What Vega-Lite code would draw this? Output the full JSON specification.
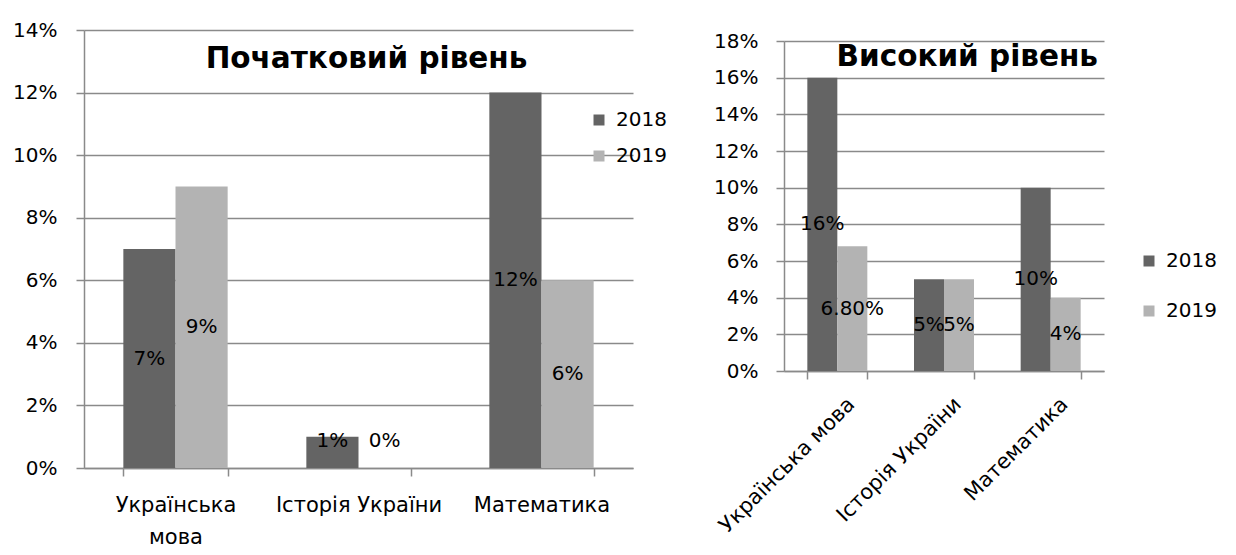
{
  "$schema": "https://vega.github.io/schema/vega-lite/v6.json",
  "background": "white",
  "padding": {"left": 12, "top": 20, "right": 0, "bottom": 0},
  "bounds": "flush",
  "spacing": 151,
  "config": {
    "font": "DejaVu Sans",
    "view": {"stroke": null},
    "axis": {
      "labelFont": "DejaVu Sans",
      "labelFontSize": 20,
      "labelColor": "black",
      "labelLimit": 0,
      "domainColor": "#8a8a8a",
      "domainWidth": 1.5,
      "gridColor": "#8a8a8a",
      "gridWidth": 1.5,
      "tickColor": "#8a8a8a",
      "tickWidth": 1.5,
      "tickSize": 8,
      "labelOverlap": false,
      "title": null
    },
    "legend": {
      "labelFont": "DejaVu Sans",
      "labelFontSize": 20,
      "labelColor": "black",
      "symbolType": "square",
      "symbolSize": 121,
      "symbolStrokeWidth": 0,
      "labelOffset": 7,
      "title": null,
      "orient": "none"
    }
  },
  "resolve": {"scale": {"color": "independent", "xOffset": "independent", "x": "independent", "y": "independent"}, "legend": {"color": "independent"}},
  "hconcat": [
    {
      "width": 549,
      "height": 438,
      "title": {"text": "Початковий рівень", "fontSize": 29.5, "fontWeight": "bold", "color": "black", "offset": -77, "baseline": "alphabetic", "anchor": "middle", "frame": "group", "dx": 8},
      "data": {"values": [
        {"subject": "Українська мова", "year": "2018", "value": 0.07, "label": "7%"},
        {"subject": "Українська мова", "year": "2019", "value": 0.09, "label": "9%"},
        {"subject": "Історія України", "year": "2018", "value": 0.01, "label": "1%"},
        {"subject": "Історія України", "year": "2019", "value": 0.0, "label": "0%"},
        {"subject": "Математика", "year": "2018", "value": 0.12, "label": "12%"},
        {"subject": "Математика", "year": "2019", "value": 0.06, "label": "6%"}
      ]},
      "transform": [{"calculate": "max(datum.value / 2, 0.0086)", "as": "mid"}],
      "encoding": {
        "x": {"field": "subject", "type": "nominal", "sort": null,
              "scale": {"paddingInner": 0.43, "paddingOuter": 0.215},
              "axis": {"labelAngle": 0, "tickBand": "extent", "labelPadding": 18, "labelLineHeight": 32, "labelFontSize": 21,
                       "labelExpr": "datum.label == 'Українська мова' ? ['Українська', 'мова'] : datum.label"}},
        "xOffset": {"field": "year", "type": "nominal", "scale": {"paddingInner": 0, "paddingOuter": 0}}
      },
      "layer": [
        {
          "mark": {"type": "bar"},
          "encoding": {
            "y": {"field": "value", "type": "quantitative",
                  "scale": {"domain": [0, 0.14], "nice": false},
                  "axis": {"format": ".0%", "values": [0, 0.02, 0.04, 0.06, 0.08, 0.1, 0.12, 0.14], "tickCount": 20, "labelPadding": 19}},
            "color": {"field": "year", "type": "nominal",
                      "scale": {"domain": ["2018", "2019"], "range": ["#646464", "#b3b3b3"]},
                      "legend": {"legendX": 505, "legendY": 80, "rowPadding": 16}}
          }
        },
        {
          "mark": {"type": "text", "fontSize": 20, "color": "black", "font": "DejaVu Sans"},
          "encoding": {
            "y": {"field": "mid", "type": "quantitative"},
            "text": {"field": "label"}
          }
        }
      ]
    },
    {
      "width": 320,
      "height": 341,
      "title": {"text": "Високий рівень", "fontSize": 29.5, "fontWeight": "bold", "color": "black", "offset": -65, "baseline": "alphabetic", "anchor": "end", "frame": "group", "dx": -6},
      "data": {"values": [
        {"subject": "Українська мова", "year": "2018", "value": 0.16, "label": "16%"},
        {"subject": "Українська мова", "year": "2019", "value": 0.068, "label": "6.80%"},
        {"subject": "Історія України", "year": "2018", "value": 0.05, "label": "5%"},
        {"subject": "Історія України", "year": "2019", "value": 0.05, "label": "5%"},
        {"subject": "Математика", "year": "2018", "value": 0.10, "label": "10%"},
        {"subject": "Математика", "year": "2019", "value": 0.04, "label": "4%"}
      ]},
      "transform": [{"calculate": "max(datum.value / 2, 0.0086)", "as": "mid"}],
      "encoding": {
        "x": {"field": "subject", "type": "nominal", "sort": null,
              "scale": {"paddingInner": 0.4375, "paddingOuter": 0.21875},
              "axis": {"labelAngle": -45, "tickBand": "extent", "labelPadding": 14, "labelOffset": 6, "labelFontSize": 21}},
        "xOffset": {"field": "year", "type": "nominal", "scale": {"paddingInner": 0, "paddingOuter": 0}}
      },
      "layer": [
        {
          "mark": {"type": "bar"},
          "encoding": {
            "y": {"field": "value", "type": "quantitative",
                  "scale": {"domain": [0, 0.18], "nice": false, "range": [341, 11]},
                  "axis": {"format": ".0%", "values": [0, 0.02, 0.04, 0.06, 0.08, 0.1, 0.12, 0.14, 0.16, 0.18], "tickCount": 20, "labelPadding": 18}},
            "color": {"field": "year", "type": "nominal",
                      "scale": {"domain": ["2018", "2019"], "range": ["#646464", "#b3b3b3"]},
                      "legend": {"legendX": 355, "legendY": 221, "rowPadding": 30}}
          }
        },
        {
          "mark": {"type": "text", "fontSize": 20, "color": "black", "font": "DejaVu Sans"},
          "encoding": {
            "y": {"field": "mid", "type": "quantitative"},
            "text": {"field": "label"}
          }
        }
      ]
    }
  ]
}
